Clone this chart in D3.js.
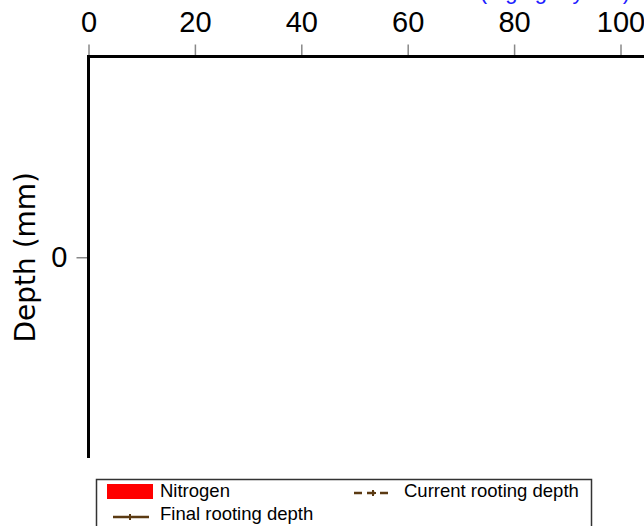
<html>
  <head>
    <title>Rooting depth</title>
    <script type="text/javascript" src="https://cdn.jsdelivr.net/npm/d3@7"></script>
    <style type="text/css">

body {
  margin: 0;
  background: #fff;
  font-family: "Liberation Sans", Arial, sans-serif;
}

    </style>
  </head>
  <body>
    <script type="text/javascript">

// the chart holds no data, only its axes and legend
var nitrogen = [],
    finalDepth = [],
    currentDepth = [];

var xTicks = [0, 20, 40, 60, 80, 100],
    yTicks = [0],
    title = "N (mg/kg dry soil)",
    yLabel = "Depth (mm)",
    legendNames = ["Nitrogen", "Current rooting depth", "Final rooting depth"];

var w = 644,
    h = 526,
    x0 = 88.5,
    y0 = 56.5,
    y1 = 458,
    brown = "#5b3a12";

var x = d3.scaleLinear().domain([0, 100]).range([x0, x0 + 532]),
    y = d3.scaleLinear().domain([-1, 1]).range([y1, y0]);

var vis = d3.select("body")
  .append("svg")
    .attr("width", w)
    .attr("height", h);

// title, mostly above the page edge
vis.append("text")
    .attr("x", 630)
    .attr("y", -1.5)
    .attr("text-anchor", "end")
    .attr("fill", "#2020ff")
    .style("font-size", "22px")
    .text(title);

var xAxis = vis.append("g")
    .attr("transform", "translate(0," + y0 + ")")
    .call(d3.axisTop(x).tickValues(xTicks).tickSize(12).tickPadding(13).tickSizeOuter(0));

var yAxis = vis.append("g")
    .attr("transform", "translate(" + x0 + ",0)")
    .call(d3.axisLeft(y).tickValues(yTicks).tickFormat(d3.format("d"))
      .tickSize(12).tickPadding(9).tickSizeOuter(0));

[xAxis, yAxis].forEach(function(g) {
  g.select(".domain").remove();
  g.selectAll(".tick line").attr("stroke", "#888").attr("stroke-width", 1.5);
  g.selectAll(".tick text")
      .attr("fill", "#000")
      .style("font-family", "\"Liberation Sans\", Arial, sans-serif")
      .style("font-size", "29px");
});

// frame lines
vis.append("path")
    .attr("d", "M" + x0 + "," + y1 + "V" + y0 + "H" + w)
    .attr("fill", "none")
    .attr("stroke", "#000")
    .attr("stroke-width", 3);

vis.append("text")
    .attr("transform", "translate(35," + (y0 + y1) / 2 + ") rotate(-90)")
    .attr("text-anchor", "middle")
    .style("font-family", "\"DejaVu Sans\", sans-serif")
    .style("font-size", "28px")
    .text(yLabel);

// legend
var lg = vis.append("g");

lg.append("rect")
    .attr("x", 96.5)
    .attr("y", 479.5)
    .attr("width", 495)
    .attr("height", 60)
    .attr("fill", "#fff")
    .attr("stroke", "#333")
    .attr("stroke-width", 1.5);

lg.append("rect")
    .attr("x", 107)
    .attr("y", 484)
    .attr("width", 46)
    .attr("height", 15)
    .attr("fill", "#ff0000");

function marker(g, cx, cy) {
  g.append("path")
      .attr("d", "M" + (cx - 3) + "," + cy + "H" + (cx + 3) + "M" + cx + "," + (cy - 3) + "V" + (cy + 3))
      .attr("stroke", brown)
      .attr("stroke-width", 2);
}

lg.append("line")
    .attr("x1", 354).attr("x2", 392)
    .attr("y1", 493).attr("y2", 493)
    .attr("stroke", brown)
    .attr("stroke-width", 2.5)
    .attr("stroke-dasharray", "8,5");
marker(lg, 373, 493);

lg.append("line")
    .attr("x1", 113).attr("x2", 149)
    .attr("y1", 517).attr("y2", 517)
    .attr("stroke", brown)
    .attr("stroke-width", 2.5);
marker(lg, 130, 517);

lg.selectAll("text.name")
    .data(legendNames)
  .enter().append("text")
    .attr("class", "name")
    .attr("x", function(d, i) { return i == 1 ? 404 : 160; })
    .attr("y", function(d, i) { return i == 2 ? 520 : 497; })
    .style("font-size", "18.5px")
    .text(function(d) { return d; });

    </script>
  </body>
</html>
